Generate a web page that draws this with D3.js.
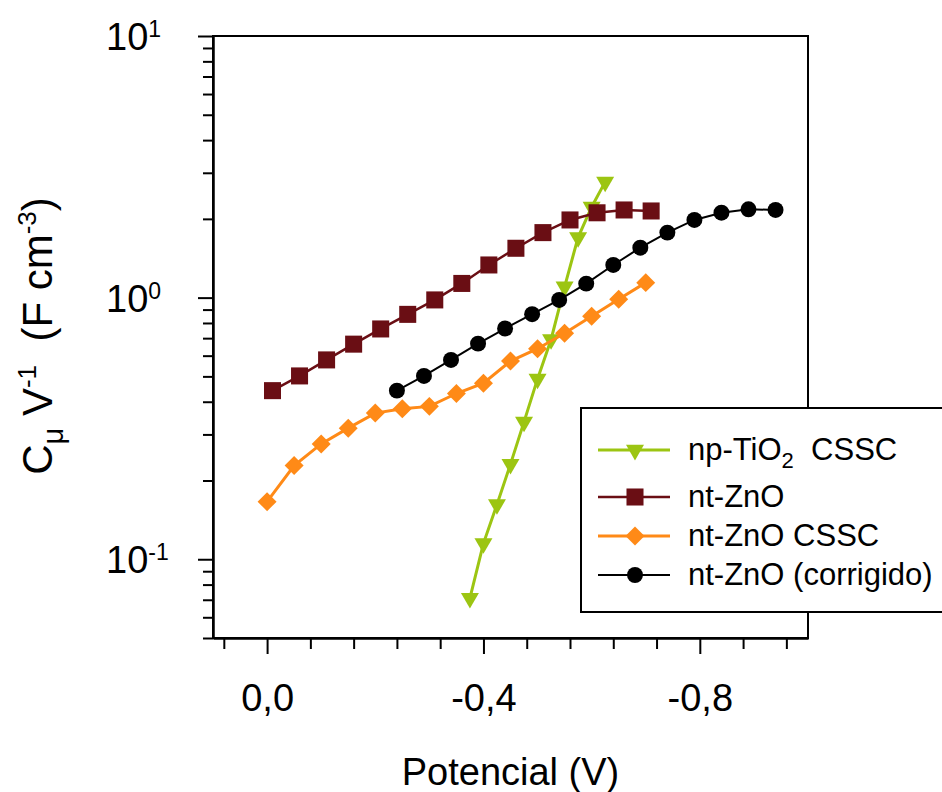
<!DOCTYPE html>
<html>
<head>
<meta charset="utf-8">
<script src="https://cdn.jsdelivr.net/npm/d3@7/dist/d3.min.js"></script>
<style>
  body { margin: 0; background: #fff; }
  svg { display: block; font-family: "Liberation Sans", Arial, sans-serif; }
</style>
</head>
<body>
<div id="main"></div>
<script>
// --- data (potential in V, C/V in F cm-3)
const potTiO2 = [-0.375, -0.40, -0.425, -0.45, -0.475, -0.50, -0.525, -0.55, -0.575, -0.60, -0.625];
const capTiO2 = [0.071, 0.115, 0.162, 0.231, 0.335, 0.489, 0.692, 1.10, 1.70, 2.22, 2.77];

const potZnO = [-0.01, -0.06, -0.11, -0.16, -0.21, -0.26, -0.31, -0.36, -0.41, -0.46, -0.51, -0.56, -0.61, -0.66, -0.71];
const capZnO = [0.441, 0.502, 0.578, 0.664, 0.759, 0.863, 0.980, 1.133, 1.333, 1.544, 1.772, 1.981, 2.110, 2.163, 2.144];

const potZnOCSSC = [0.0, -0.05, -0.10, -0.15, -0.20, -0.25, -0.30, -0.35, -0.40, -0.45, -0.50, -0.55, -0.60, -0.65, -0.70];
const capZnOCSSC = [0.166, 0.228, 0.276, 0.317, 0.362, 0.376, 0.384, 0.430, 0.471, 0.572, 0.638, 0.731, 0.849, 0.986, 1.141];

const potCorr = [-0.24, -0.29, -0.34, -0.39, -0.44, -0.49, -0.54, -0.59, -0.64, -0.69, -0.74, -0.79, -0.84, -0.89, -0.94];
const capCorr = [0.441, 0.502, 0.578, 0.667, 0.762, 0.864, 0.980, 1.131, 1.333, 1.552, 1.772, 1.981, 2.112, 2.176, 2.163];

const xMajorTicks = [0, -0.4, -0.8];
const xMinorTicks = [0.08, -0.08, -0.16, -0.24, -0.32, -0.48, -0.56, -0.64, -0.72, -0.88, -0.96];
const yMajorTicks = [10, 1, 0.1];
const yTickExp = ['1', '0', '-1'];
const yMinorTicks = [0.05, 0.06, 0.07, 0.08, 0.09, 0.2, 0.3, 0.4, 0.5, 0.6, 0.7, 0.8, 0.9, 2, 3, 4, 5, 6, 7, 8, 9];

const seriesNames = ['np-TiO', 'nt-ZnO', 'nt-ZnO CSSC', 'nt-ZnO (corrigido)'];
const seriesColors = ['#9cc512', '#6a0e14', '#ff8a17', '#000000'];

// --- setup
const svgWidth = 942, svgHeight = 792;
const margin = { left: 213, right: 134, top: 36, bottom: 154 };
const chartRight = svgWidth - margin.right;
const chartBottom = svgHeight - margin.bottom;

const svg = d3.select('#main')
  .append('svg')
  .attr('width', svgWidth)
  .attr('height', svgHeight);

const xScale = d3.scaleLinear().domain([0.1, -1.0]).range([margin.left, chartRight]);
const yScale = d3.scaleLog().domain([0.05, 10]).range([chartBottom, margin.top]);

// frame
svg.append('rect')
  .attr('x', margin.left).attr('y', margin.top)
  .attr('width', chartRight - margin.left).attr('height', chartBottom - margin.top)
  .attr('fill', 'none').attr('stroke', '#000').attr('stroke-width', 2);

// x axis
const fmtComma = d => d3.format('.1f')(d).replace('.', ',').replace('−', '-');
const xAxisMajor = svg.append('g')
  .attr('transform', `translate(0, ${chartBottom})`)
  .call(d3.axisBottom(xScale).tickValues(xMajorTicks).tickSize(16).tickSizeOuter(0)
    .tickPadding(30).tickFormat(fmtComma));
const xAxisMinor = svg.append('g')
  .attr('transform', `translate(0, ${chartBottom})`)
  .call(d3.axisBottom(xScale).tickValues(xMinorTicks).tickSize(11).tickSizeOuter(0).tickFormat(''));

// y axis
const yAxisMajor = svg.append('g')
  .attr('transform', `translate(${margin.left}, 0)`)
  .call(d3.axisLeft(yScale).tickValues(yMajorTicks).tickSize(15).tickSizeOuter(0).tickFormat(''));
const yAxisMinor = svg.append('g')
  .attr('transform', `translate(${margin.left}, 0)`)
  .call(d3.axisLeft(yScale).tickValues(yMinorTicks).tickSize(10).tickSizeOuter(0).tickFormat(''));

[xAxisMajor, xAxisMinor, yAxisMajor, yAxisMinor].forEach(g => {
  g.selectAll('path, line').attr('stroke', '#000').attr('stroke-width', 2);
});
xAxisMajor.selectAll('text')
  .attr('font-size', 38).attr('fill', '#000')
  .attr('font-family', '"Liberation Sans", Arial, sans-serif');

// y tick labels 10^n
yMajorTicks.forEach((v, i) => {
  const t = svg.append('text')
    .attr('x', 106).attr('y', yScale(v) + 14)
    .attr('font-size', 38).attr('fill', '#000');
  t.append('tspan').text('10');
  t.append('tspan').attr('dy', -13).attr('font-size', 23).text(yTickExp[i]);
});

// axis titles
svg.append('text')
  .attr('x', (margin.left + chartRight) / 2).attr('y', 785)
  .attr('text-anchor', 'middle').attr('font-size', 38)
  .text('Potencial (V)');

const yTitle = svg.append('text')
  .attr('transform', 'translate(52, 336) rotate(-90)')
  .attr('text-anchor', 'middle').attr('font-size', 42);
yTitle.append('tspan').text('C');
yTitle.append('tspan').attr('dy', 11).attr('font-size', 29).text('μ');
yTitle.append('tspan').attr('dy', -11).text('\u00A0V');
yTitle.append('tspan').attr('dy', -16).attr('font-size', 26).text('-1');
yTitle.append('tspan').attr('dy', 16).text('\u00A0\u00A0(F cm');
yTitle.append('tspan').attr('dy', -16).attr('font-size', 26).text('-3');
yTitle.append('tspan').attr('dy', 16).text(')');

// --- series
const series = [
  { pot: potTiO2, cap: capTiO2, symbol: d3.symbolTriangle, size: 140, rotate: 180, width: 3 },
  { pot: potZnO, cap: capZnO, symbol: d3.symbolSquare, size: 290, rotate: 0, width: 2.5 },
  { pot: potZnOCSSC, cap: capZnOCSSC, symbol: d3.symbolSquare, size: 180, rotate: 45, width: 3 },
  { pot: potCorr, cap: capCorr, symbol: d3.symbolCircle, size: 200, rotate: 0, width: 2 }
];

const line = d3.line()
  .x(d => xScale(d[0]))
  .y(d => yScale(d[1]));

series.forEach((s, i) => {
  const pts = s.pot.map((p, j) => [p, s.cap[j]]);
  const g = svg.append('g');
  g.append('path')
    .datum(pts)
    .attr('fill', 'none')
    .attr('stroke', seriesColors[i])
    .attr('stroke-width', s.width)
    .attr('d', line);
  g.selectAll('path.pt')
    .data(pts)
    .enter()
    .append('path')
    .attr('class', 'pt')
    .attr('d', d3.symbol().type(s.symbol).size(s.size))
    .attr('fill', seriesColors[i])
    .attr('transform', d => `translate(${xScale(d[0])}, ${yScale(d[1])}) rotate(${s.rotate})`);
});

// --- legend
const legend = svg.append('g');
legend.append('rect')
  .attr('x', 581).attr('y', 408).attr('width', 420).attr('height', 204)
  .attr('fill', '#fff').attr('stroke', '#000').attr('stroke-width', 2);

const rowY = [450, 497, 536, 575];
series.forEach((s, i) => {
  legend.append('line')
    .attr('x1', 598).attr('x2', 670).attr('y1', rowY[i]).attr('y2', rowY[i])
    .attr('stroke', seriesColors[i]).attr('stroke-width', s.width);
  legend.append('path')
    .attr('d', d3.symbol().type(s.symbol).size(s.size))
    .attr('fill', seriesColors[i])
    .attr('transform', `translate(635, ${rowY[i]}) rotate(${s.rotate})`);
  const t = legend.append('text')
    .attr('x', 688).attr('y', rowY[i] + 10)
    .attr('font-size', 31).attr('fill', '#000');
  t.append('tspan').text(seriesNames[i]);
  if (i === 0) {
    t.append('tspan').attr('dy', 8).attr('font-size', 22).text('2');
    t.append('tspan').attr('dy', -8).text('\u00A0\u00A0CSSC');
  }
});
</script>
</body>
</html>
